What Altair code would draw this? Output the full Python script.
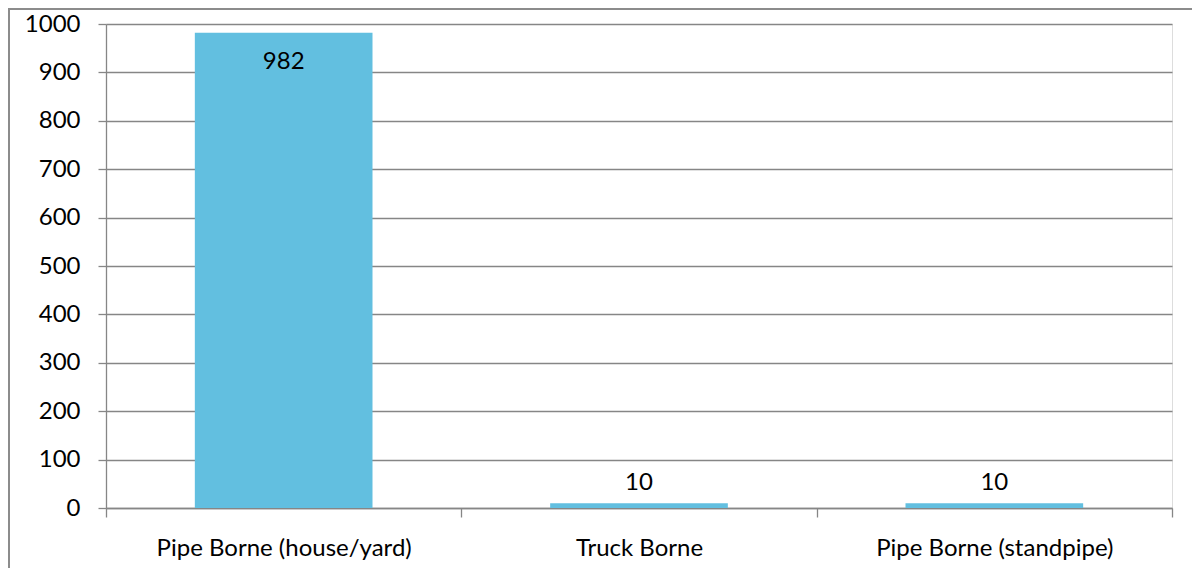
import altair as alt
import pandas as pd

categories = ["Pipe Borne (house/yard)", "Truck Borne", "Pipe Borne (standpipe)"]
values = [982, 10, 10]
y_ticks = [0, 100, 200, 300, 400, 500, 600, 700, 800, 900, 1000]

df = pd.DataFrame({"cat": categories, "val": values})

W, H = 1066, 484
FONT = "Lato"
FS = 24
GRID = "#868686"

x_enc = alt.X("cat:N", sort=categories, title=None,
              scale=alt.Scale(paddingInner=0, paddingOuter=0),
              axis=alt.Axis(labelAngle=0, tickBand="extent", tickSize=9,
                            labelPadding=19, labelFontSize=FS, labelFont=FONT,
                            labelLimit=400, labelColor="black", domainColor=GRID,
                            tickColor=GRID, domainWidth=1.3, tickWidth=1.3, grid=False))
y_enc = alt.Y("val:Q", title=None,
              scale=alt.Scale(domain=[0, 1000], nice=False),
              axis=alt.Axis(values=y_ticks, format="d", tickSize=8, labelPadding=18,
                            labelFontSize=FS, labelFont=FONT, labelColor="black",
                            domainColor=GRID, tickColor=GRID, gridColor=GRID,
                            gridWidth=1.3, domainWidth=1.3, tickWidth=1.3))

base = alt.Chart(df)

bars = base.mark_bar(color="#62BFE0", width={"band": 0.5}).encode(x=x_enc, y=y_enc)

text_in = base.transform_filter("datum.val > 900").mark_text(
    baseline="middle", dy=29, fontSize=FS, font=FONT, color="black"
).encode(x=alt.X("cat:N", sort=categories), y="val:Q", text="val:Q")

text_out = base.transform_filter("datum.val <= 900").mark_text(
    baseline="middle", dy=-20, fontSize=FS, font=FONT, color="black"
).encode(x=alt.X("cat:N", sort=categories), y="val:Q", text="val:Q")

frame = pd.DataFrame({"a": [0]})
border_left = alt.Chart(frame).mark_rule(color="#8c8c8c", strokeWidth=2).encode(
    x=alt.value(-97), y=alt.value(-16), y2=alt.value(H + 120))
border_top = alt.Chart(frame).mark_rule(color="#8c8c8c", strokeWidth=2).encode(
    x=alt.value(-98), x2=alt.value(W + 60), y=alt.value(-15))

chart = alt.layer(border_left, border_top, bars, text_in, text_out).properties(
    width=W, height=H,
    autosize=alt.AutoSizeParams(type="none"),
    padding={"left": 98, "top": 16, "right": 20, "bottom": 60},
).configure_view(stroke=None).configure(background="white")

chart.save("out.html", embed_options={"renderer": "svg", "actions": False})
